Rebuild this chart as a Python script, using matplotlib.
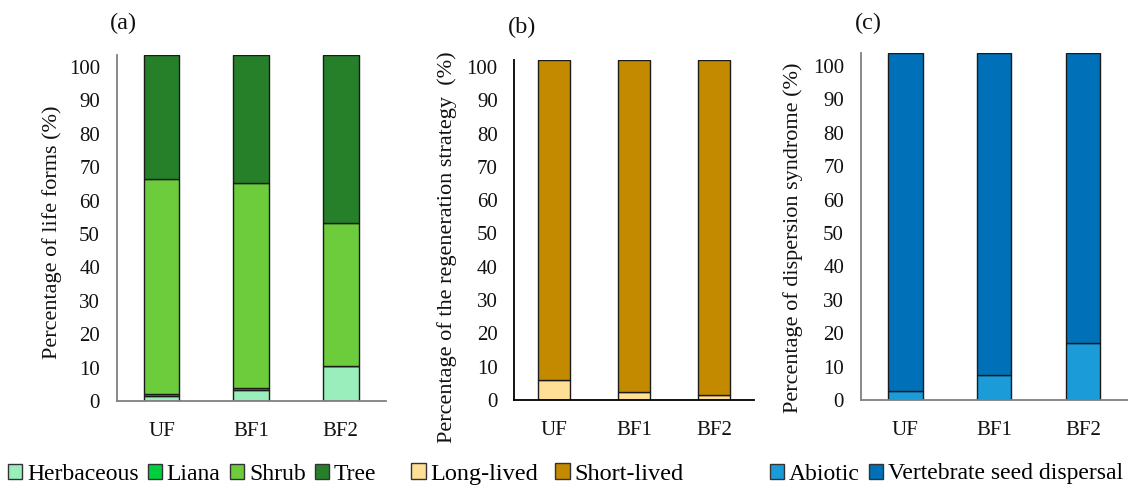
import matplotlib
matplotlib.use("Agg")
import matplotlib.pyplot as plt
from matplotlib.patches import Patch
import numpy as np

plt.rcParams['font.family'] = ['Liberation Serif', 'DejaVu Serif']

sites = ["UF", "BF1", "BF2"]

# Panel (a) life forms
herbaceous = [1.5, 3.3, 10.5]
liana = [0.6, 0.5, 0.0]
shrub = [64.3, 61.4, 42.7]
tree = [37.2, 38.4, 50.4]

# Panel (b) regeneration strategy
long_lived = [5.9, 2.4, 1.4]
short_lived = [96.1, 99.6, 100.6]

# Panel (c) dispersal syndrome
abiotic = [2.6, 7.6, 17.0]
vertebrate = [101.4, 96.4, 87.0]

yticks = list(range(0, 101, 10))

W, H = 1128, 488
fig = plt.figure(figsize=(W / 100, H / 100), dpi=100)


def px_axes(left, right, top, bottom):
    return fig.add_axes([left / W, (H - bottom) / H, (right - left) / W, (bottom - top) / H])


def style(ax, ymax, spine_color):
    ax.set_xlim(-0.5, 2.5)
    ax.set_ylim(0, ymax)
    ax.set_yticks(yticks)
    ax.set_xticks(range(len(sites)))
    ax.set_xticklabels(sites)
    ax.tick_params(axis='y', length=0, pad=12, labelsize=15, colors='#111111')
    ax.tick_params(axis='x', length=0, pad=15, labelsize=15, colors='#111111')
    for s in ['top', 'right']:
        ax.spines[s].set_visible(False)
    for s in ['left', 'bottom']:
        ax.spines[s].set_color(spine_color)
        ax.spines[s].set_linewidth(1.3)


def stack(ax, series, colors, width):
    x = np.arange(len(sites))
    bottom = np.zeros(len(sites))
    for vals, c in zip(series, colors):
        ax.bar(x, vals, width, bottom=bottom, color=c, edgecolor='#1a1a1a', linewidth=1.0)
        bottom += np.array(vals)


# (a)
col_a = ['#99EEBB', '#00D040', '#6CCC3C', '#26802A']
ax1 = px_axes(116.7, 385.5, 55, 401)
stack(ax1, [herbaceous, liana, shrub, tree], col_a, 0.40)
style(ax1, 103.6, '#808080')

# (b)
col_b = ['#FFDE96', '#C38A00']
ax2 = px_axes(514.3, 754, 60.3, 400)
stack(ax2, [long_lived, short_lived], col_b, 0.40)
style(ax2, 102, '#000000')

# (c)
col_c = ['#1B9CD8', '#0070B8']
ax3 = px_axes(860.7, 1127.5, 52.7, 400)
stack(ax3, [abiotic, vertebrate], col_c, 0.39)
style(ax3, 104, '#808080')

# panel letters
for txt, x, y in [("(a)", 123, 23), ("(b)", 522, 27), ("(c)", 868, 23)]:
    fig.text(x / W, 1 - y / H, txt, ha='center', va='center', fontsize=17.5, color='#111111')

# y labels
for txt, x, y in [("Percentage of life forms (%)", 52, 232),
                  ("Percentage of the regeneration strategy  (%)", 447, 247),
                  ("Percentage of dispersion syndrome (%)", 793, 238)]:
    fig.text(x / W, 1 - y / H, txt, rotation=90, ha='center', va='center', fontsize=16, color='#111111')

# legends
def legend(labels, colors, x, fs, cs):
    handles = [Patch(facecolor=c, edgecolor='#333333', linewidth=1.0) for c in colors]
    fig.legend(handles, labels, loc='center left', bbox_to_anchor=(x / W, 1 - 474 / H),
               ncol=len(labels), frameon=False, fontsize=fs, handlelength=0.6, handleheight=0.6,
               handletextpad=0.2, columnspacing=cs, borderaxespad=0, borderpad=0)

legend(["Herbaceous", "Liana", "Shrub", "Tree"], col_a, 8, 17, 0.4)
legend(["Long-lived", "Short-lived"], col_b, 411, 17.5, 0.7)
legend(["Abiotic", "Vertebrate seed dispersal"], col_c, 770, 17, 0.4)

fig.savefig("out.png", dpi=100)
